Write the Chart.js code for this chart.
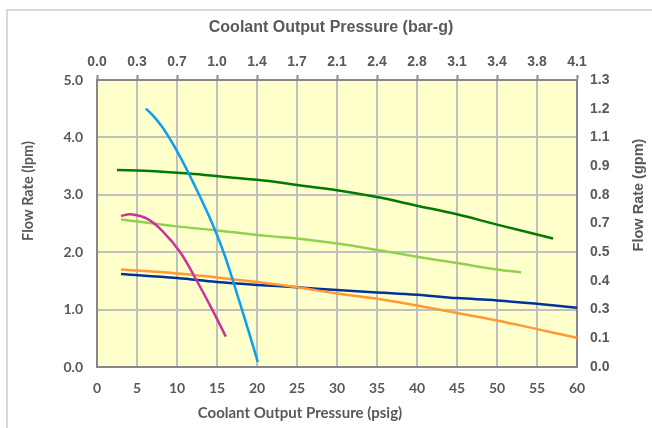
<!DOCTYPE html>
<html lang="en">
<head>
<meta charset="UTF-8">
<title>Coolant Output Pressure vs Flow Rate</title>
<script src="https://cdn.jsdelivr.net/npm/chart.js"></script>
<style>
    body { margin: 0; background: #ffffff; }
    .chart-box { width: 652px; height: 428px; }
</style>
</head>
<body>
<div class="chart-box">
    <canvas id="chart" width="652" height="428"></canvas>
</div>
<script>
// pressure (psig) / flow (lpm), one pair of arrays per curve
var lightBluePsig = [6.1, 7, 8, 9, 10, 11, 12, 13, 14, 15, 16, 17, 18, 19, 20.1];
var lightBlueLpm  = [4.50, 4.38, 4.21, 4.00, 3.76, 3.50, 3.22, 2.93, 2.63, 2.30, 1.93, 1.50, 1.05, 0.60, 0.09];

var magentaPsig = [3.0, 4.2, 6.3, 8.3, 10.4, 12.4, 14.4, 16.1];
var magentaLpm  = [2.63, 2.66, 2.58, 2.35, 2.00, 1.52, 1.00, 0.53];

var darkGreenPsig = [2.5, 6, 11.5, 16, 21.5, 25, 30, 35, 40, 45, 50, 57];
var darkGreenLpm  = [3.43, 3.42, 3.37, 3.31, 3.24, 3.17, 3.08, 2.96, 2.81, 2.66, 2.48, 2.24];

var lightGreenPsig = [3.0, 10, 15, 21.5, 25, 30, 35, 40, 45, 50, 53];
var lightGreenLpm  = [2.57, 2.45, 2.38, 2.28, 2.24, 2.15, 2.04, 1.92, 1.81, 1.70, 1.65];

var orangePsig = [3.0, 10, 15, 20, 25, 30, 35, 40, 45, 50, 55, 60];
var orangeLpm  = [1.70, 1.63, 1.56, 1.48, 1.39, 1.28, 1.19, 1.07, 0.94, 0.81, 0.66, 0.51];

var darkBluePsig = [3.0, 10, 15, 20, 25, 30, 35, 40, 45, 50, 55, 60];
var darkBlueLpm  = [1.62, 1.55, 1.48, 1.43, 1.39, 1.34, 1.30, 1.26, 1.20, 1.16, 1.10, 1.03];

// axis ranges and conversions for the second axes
var psigMin = 0, psigMax = 60, psigStep = 5;
var lpmMin = 0, lpmMax = 5, lpmStep = 1, gpmStep = 0.5;
var PSI_TO_BAR = 0.0689476;
var LPM_TO_GPM = 0.264172;

var titleBottom = 'Coolant Output Pressure (psig)';
var titleTop = 'Coolant Output Pressure (bar-g)';
var titleLeft = 'Flow Rate (lpm)';
var titleRight = 'Flow Rate (gpm)';

function points(xs, ys) {
    return xs.map(function (x, i) { return { x: x, y: ys[i] }; });
}

function line(xs, ys, color) {
    return {
        data: points(xs, ys),
        borderColor: color,
        borderWidth: 2.5,
        pointRadius: 0,
        showLine: true,
        fill: false,
        tension: 0.4
    };
}

var grey = '#595959';
var gridGrey = '#C0C0C0';
var frameGrey = '#878787';
var calibriLike = 'Lato, "Open Sans", sans-serif';
var arialLike = '"Liberation Sans", Arial, sans-serif';

// pale yellow plot area and the light outer frame
var backdrop = {
    id: 'backdrop',
    beforeDraw: function (chart) {
        var ctx = chart.ctx, a = chart.chartArea;
        ctx.save();
        ctx.fillStyle = '#FFFFCC';
        ctx.fillRect(a.left, a.top, a.right - a.left, a.bottom - a.top);
        ctx.strokeStyle = '#D9D9D9';
        ctx.lineWidth = 2;
        ctx.beginPath();
        ctx.moveTo(7, 428);
        ctx.lineTo(7, 10);
        ctx.lineTo(652, 10);
        ctx.stroke();
        ctx.restore();
    }
};

// axis titles sit a little off-centre in the original, so place them by hand
var axisTitles = {
    id: 'axisTitles',
    afterDraw: function (chart) {
        var ctx = chart.ctx;
        ctx.save();
        ctx.fillStyle = grey;
        ctx.textAlign = 'center';
        ctx.textBaseline = 'middle';

        ctx.font = 'bold 16px ' + arialLike;
        ctx.fillText(titleTop, 331, 28);

        ctx.font = 'bold 15px ' + calibriLike;
        ctx.fillText(titleBottom, 300, 413);

        ctx.save();
        ctx.translate(28, 191);
        ctx.rotate(-Math.PI / 2);
        ctx.font = 'bold 14.5px ' + calibriLike;
        ctx.fillText(titleLeft, 0, 0);
        ctx.restore();

        ctx.save();
        ctx.translate(639, 195);
        ctx.rotate(-Math.PI / 2);
        ctx.font = 'bold 14.5px ' + arialLike;
        ctx.fillText(titleRight, 0, 0);
        ctx.restore();

        ctx.restore();
    }
};

var ctx = document.getElementById('chart').getContext('2d');
var chart = new Chart(ctx, {
    type: 'scatter',
    data: {
        datasets: [
            line(lightBluePsig, lightBlueLpm, '#0A9FF0'),
            line(magentaPsig, magentaLpm, '#CC3399'),
            line(darkGreenPsig, darkGreenLpm, '#007A00'),
            line(lightGreenPsig, lightGreenLpm, '#92D050'),
            line(orangePsig, orangeLpm, '#FF9933'),
            line(darkBluePsig, darkBlueLpm, '#003399')
        ]
    },
    options: {
        responsive: false,
        animation: false,
        layout: { padding: 0 },
        plugins: {
            legend: { display: false },
            tooltip: { enabled: false }
        },
        scales: {
            x: {
                type: 'linear',
                position: 'bottom',
                min: psigMin,
                max: psigMax,
                afterFit: function (s) { s.height = 61; },
                ticks: {
                    stepSize: psigStep,
                    padding: 13,
                    color: grey,
                    font: { family: calibriLike, size: 14, weight: 'bold' }
                },
                grid: { color: gridGrey, lineWidth: 2, drawTicks: false },
                border: { color: frameGrey, width: 2 }
            },
            x2: {
                type: 'linear',
                position: 'top',
                min: psigMin,
                max: psigMax,
                afterFit: function (s) { s.height = 80; },
                ticks: {
                    stepSize: psigStep,
                    padding: 4,
                    color: grey,
                    font: { family: arialLike, size: 14, weight: 'bold' },
                    callback: function (v) { return (v * PSI_TO_BAR).toFixed(1); }
                },
                grid: { drawOnChartArea: false, drawTicks: true, tickLength: 5, tickColor: frameGrey, tickWidth: 2 },
                border: { color: frameGrey, width: 2 }
            },
            y: {
                type: 'linear',
                position: 'left',
                min: lpmMin,
                max: lpmMax,
                afterFit: function (s) { s.width = 97; },
                ticks: {
                    stepSize: lpmStep,
                    padding: 14,
                    color: grey,
                    font: { family: calibriLike, size: 14, weight: 'bold' },
                    callback: function (v) { return v.toFixed(1); }
                },
                grid: { color: gridGrey, lineWidth: 2, drawTicks: false },
                border: { color: frameGrey, width: 2 }
            },
            y2: {
                type: 'linear',
                position: 'right',
                min: lpmMin,
                max: lpmMax,
                afterFit: function (s) { s.width = 75; },
                ticks: {
                    stepSize: gpmStep,
                    padding: 13,
                    color: grey,
                    font: { family: arialLike, size: 14, weight: 'bold' },
                    callback: function (v) { return (v * LPM_TO_GPM).toFixed(1); }
                },
                grid: { drawOnChartArea: false, drawTicks: false },
                border: { color: frameGrey, width: 2 }
            }
        }
    },
    plugins: [backdrop, axisTitles]
});
</script>
</body>
</html>
